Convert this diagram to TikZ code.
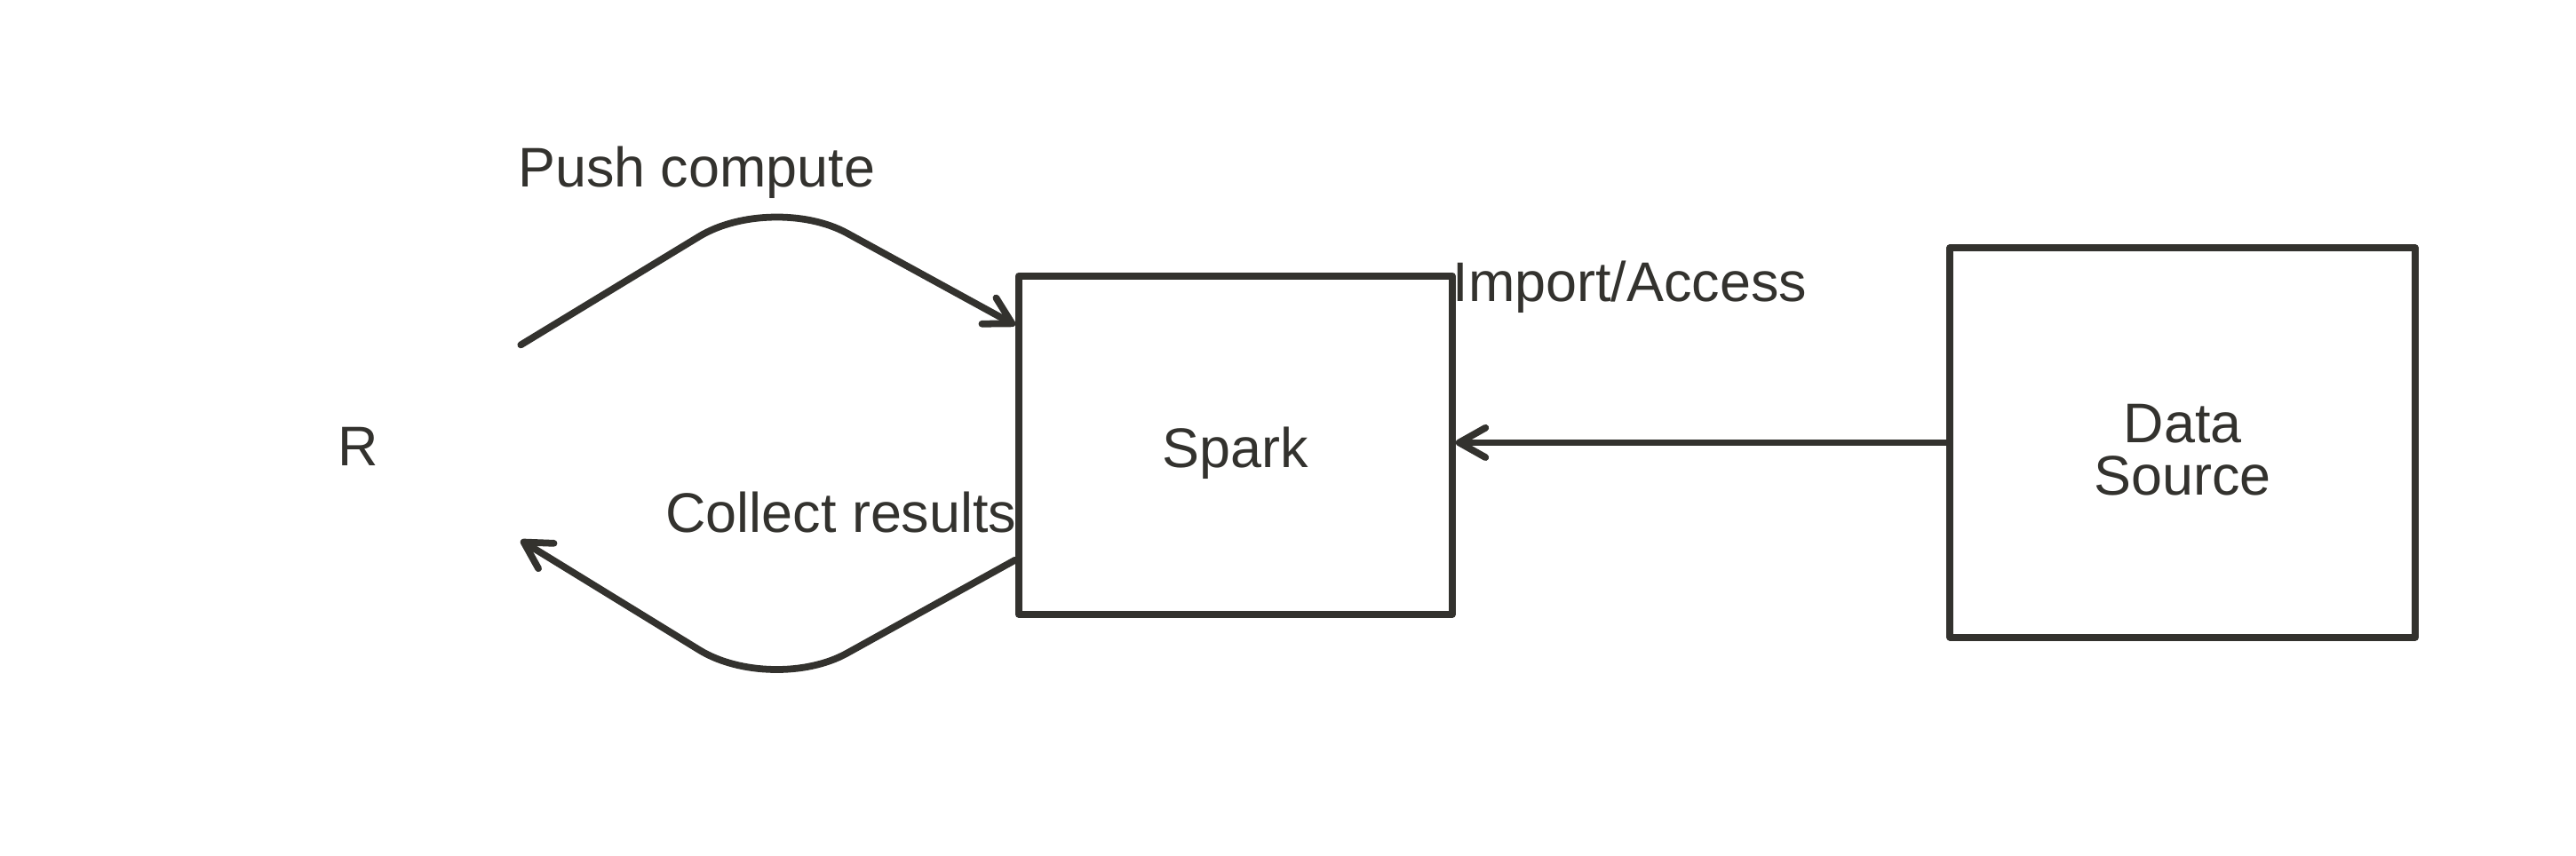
\documentclass[tikz,border=0pt]{standalone}
\usepackage{fontspec}
\setmainfont{Liberation Sans}
\usetikzlibrary{arrows.meta}
\definecolor{ink}{RGB}{51,50,46}
\begin{document}
\begin{tikzpicture}[x=0.5pt,y=-0.5pt,
  every node/.style={text=ink, font=\fontsize{17}{16}\selectfont},
  box/.style={draw=ink, line width=2.1pt, fill=white, inner sep=0pt, line join=round},
  lbl/.style={inner sep=0pt, align=center},
  arr/.style={draw=ink, line width=2.1pt, line cap=round, line join=round,
    -{Straight Barb[length=8pt,width=9pt,line cap=round,line join=round]}}]
\useasboundingbox (0,0) rectangle (1568,521);
\node[lbl] (r) at (218,272) {R};
\node[box, minimum width=132pt, minimum height=103pt] (spark) at (752,271) {};
\node[lbl] (sparkt) at (752,276) {Spark};
\node[box, minimum width=141.5pt, minimum height=118.5pt] (ds) at (1328.5,269.5) {};
\node[lbl] (dst) at (1328.5,274) {Data\\Source};
\coordinate (rU) at (317,210);
\coordinate (rL) at (317,329);
\node[lbl] (push) at (424,105) {Push compute};
\node[lbl, anchor=west] (imp) at (884,175) {Import/Access};
\node[lbl] (coll) at (512,312) {Collect results};
\draw[arr, rounded corners=26pt] (rU) -- (470,117) -- ([yshift=36.5pt]spark.west);
\draw[arr, rounded corners=26pt] ([yshift=-35pt]spark.west) -- (470,423) -- (rL);
\draw[arr] (ds.west) -- (ds.west -| spark.east);
\end{tikzpicture}
\end{document}
